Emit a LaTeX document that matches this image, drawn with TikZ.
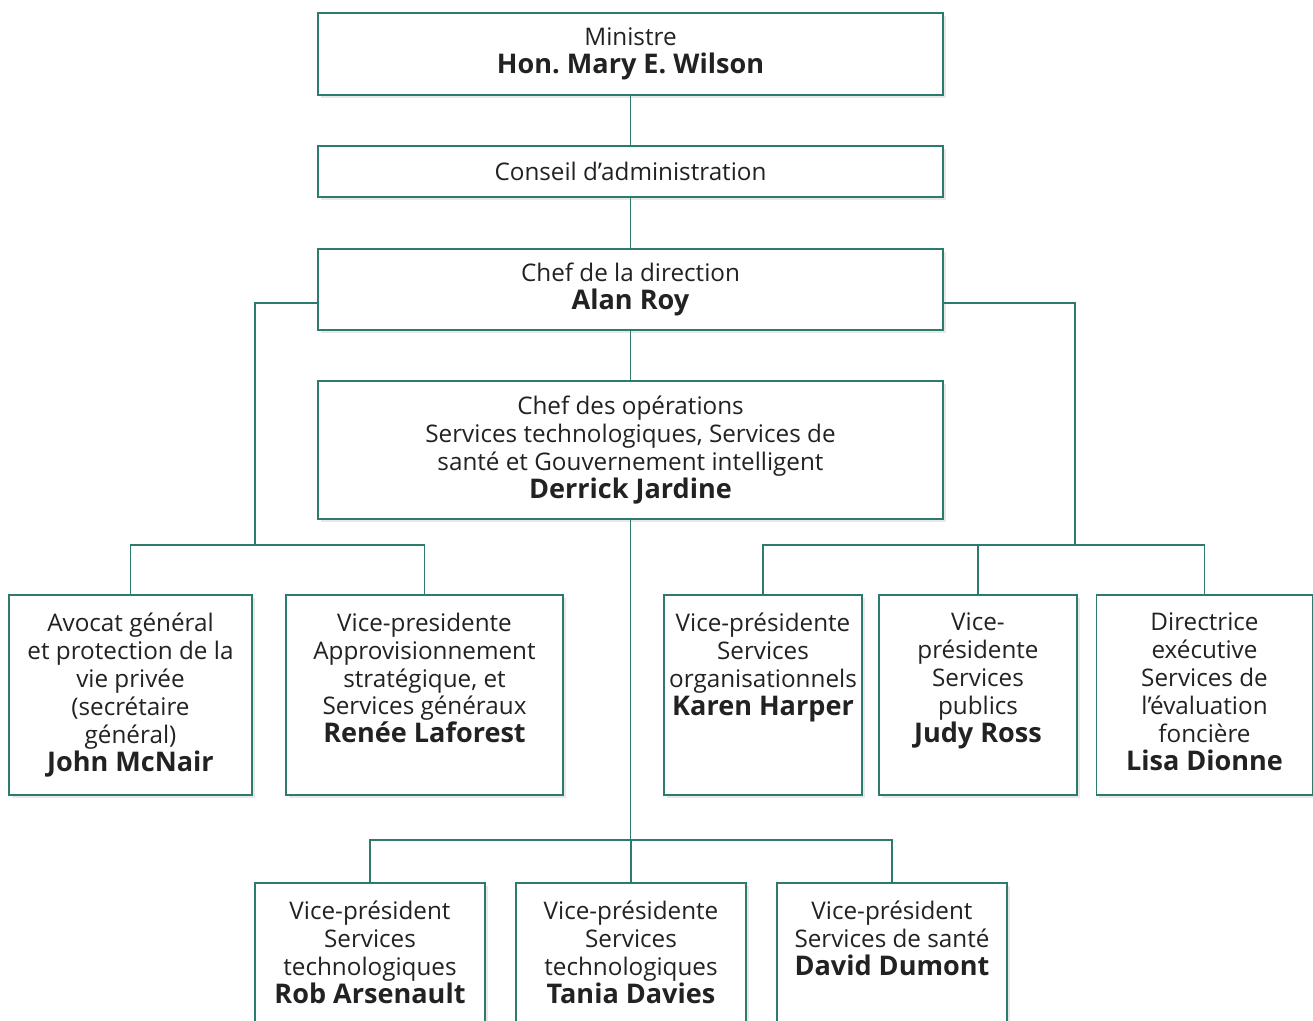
\documentclass[tikz,border=0pt]{standalone}
\usepackage{fontspec}
\setmainfont{Open Sans}
\usepackage{tikz}
\usetikzlibrary{positioning}
\usetikzlibrary{calc}
\usetikzlibrary{shadows}
\definecolor{orgline}{RGB}{46,122,108}
\definecolor{orgtext}{RGB}{34,34,34}
\newcommand{\who}[1]{{\fontsize{15.4}{15.9}\selectfont\bfseries #1}}
\frenchspacing

\begin{document}
\begin{tikzpicture}[
    box/.style = {draw = orgline, line width = 0.8pt, fill = white, rectangle,
        inner sep = 0, text = orgtext, align = center,
        drop shadow = {shadow xshift = 1.5pt, shadow yshift = -1.8pt, opacity = 0.18}},
    top/.style = {box, minimum width = 12.5cm},
    vp/.style = {box, minimum height = 4cm},
    vptext/.style = {anchor = north, align = center, text = orgtext, yshift = -0.2cm},
    link/.style = {draw = orgline, line width = 0.8pt}
]
        \useasboundingbox (0,0) rectangle (26.26,-20.42);
        \fontsize{13.8}{15.9}\selectfont

        % Define upper boxes
        \node[top, minimum height = 1.64cm] (minister) at (12.61,-1.08) {Ministre\\\who{Hon. Mary E. Wilson}};
        \node[top, minimum height = 1.02cm] (board) at (12.61,-3.43) {Conseil d’administration};
        \node[top, minimum height = 1.62cm] (ceo) at (12.61,-5.79) {Chef de la direction\\\who{Alan Roy}};
        \node[top, minimum height = 2.76cm] (coo) at (12.61,-9.0) {Chef des opérations\\Services technologiques, Services de\\santé et Gouvernement intelligent\\\who{Derrick Jardine}};

        % Second row
        \node[vp, minimum width = 4.86cm, label = {[vptext]north:{Avocat général\\et protection de la\\vie privée\\(secrétaire\\général)\\\who{John McNair}}}] (mcnair) at (2.61,-13.9) {};
        \node[vp, minimum width = 5.54cm, label = {[vptext]north:{Vice-presidente\\Approvisionnement\\stratégique, et\\Services généraux\\\who{Renée Laforest}}}] (laforest) at (8.49,-13.9) {};
        \node[vp, minimum width = 3.96cm, label = {[vptext]north:{Vice-présidente\\Services\\organisationnels\\\who{Karen Harper}}}] (harper) at (15.26,-13.9) {};
        \node[vp, minimum width = 3.96cm, label = {[vptext]north:{Vice-\\présidente\\Services\\publics\\\who{Judy Ross}}}] (ross) at (19.56,-13.9) {};
        \node[vp, minimum width = 4.32cm, label = {[vptext]north:{Directrice\\exécutive\\Services de\\l’évaluation\\foncière\\\who{Lisa Dionne}}}] (dionne) at (24.09,-13.9) {};

        % Third row
        \node[vp, minimum width = 4.6cm, label = {[vptext]north:{Vice-président\\Services\\technologiques\\\who{Rob Arsenault}}}] (arsenault) at (7.40,-19.66) {};
        \node[vp, minimum width = 4.6cm, label = {[vptext]north:{Vice-présidente\\Services\\technologiques\\\who{Tania Davies}}}] (davies) at (12.62,-19.66) {};
        \node[vp, minimum width = 4.6cm, label = {[vptext]north:{Vice-président\\Services de santé\\\who{David Dumont}}}] (dumont) at (17.84,-19.66) {};

        % Bus points
        \coordinate (lbus) at (5.1,-10.9);
        \coordinate (rbus) at (21.5,-10.9);
        \coordinate (bbus) at (12.61,-16.8);

        % Connectors
        \draw[link] (minister.south) -- (board.north);
        \draw[link] (board.south) -- (ceo.north);
        \draw[link] (ceo.south) -- (coo.north);
        \draw[link] (coo.south) -- (bbus);
        \draw[link] ([yshift=-0.27cm]ceo.west) -| (lbus);
        \draw[link] ([yshift=-0.27cm]ceo.east) -| (rbus);
        \draw[link] (mcnair.north) |- (lbus) -| (laforest.north);
        \draw[link] (harper.north) |- (rbus) -| (dionne.north);
        \draw[link] (ross.north) -- (ross.north |- rbus);
        \draw[link] (arsenault.north) |- (bbus) -| (dumont.north);
        \draw[link] (davies.north) -- (davies.north |- bbus);
\end{tikzpicture}
\end{document}
